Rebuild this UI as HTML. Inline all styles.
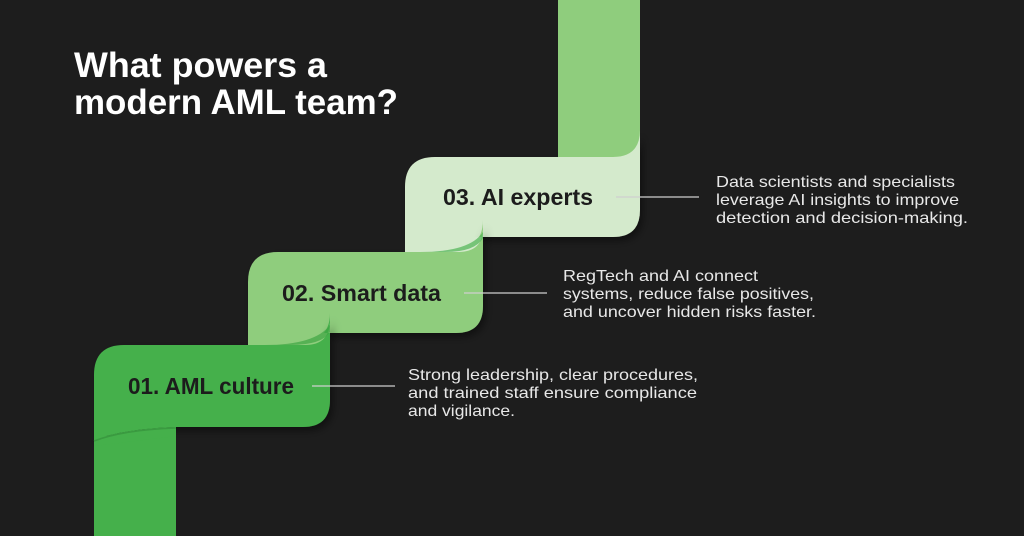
<!DOCTYPE html>
<html><head><meta charset="utf-8"><style>
html,body{margin:0;padding:0;background:#1d1d1d;}
body{width:1024px;height:536px;overflow:hidden;position:relative;font-family:"Liberation Sans",sans-serif;}
</style></head><body>
<svg width="1024" height="536" style="position:absolute;left:0;top:0" font-family="Liberation Sans, sans-serif">
<defs><filter id="s" x="-10%" y="-10%" width="130%" height="140%"><feDropShadow dx="3" dy="4" stdDeviation="4" flood-color="#000" flood-opacity="0.45"/></filter></defs>
<!-- box3 -->
<path filter="url(#s)" d="M405,187 Q405,157 435,157 L600,157 Q640,157 640,125 L640,210 Q640,237 613,237 L405,237 Z" fill="#d4eacc"/>
<rect x="405" y="230" width="78" height="24" fill="#d4eacc"/>
<!-- top column on top -->
<path d="M558,0 L640,0 L640,130 Q640,157 613,157 L558,157 Z" fill="#8fcd7d"/>
<!-- box2 -->
<path filter="url(#s)" d="M248,282 Q248,252 278,252 L443,252 Q483,252 483,220 L483,306 Q483,333 456,333 L248,333 Z" fill="#8fcd7d"/>
<path d="M405,237 L483,237 L483,228 Q483,252 458,252 L405,252 Z" fill="#d4eacc"/>
<path d="M420,252 Q470,252 483,232 L483,238 Q475,252 445,252 Z" fill="#4fb354" opacity=".7"/>
<!-- box1 -->
<path filter="url(#s)" d="M94,375 Q94,345 124,345 L290,345 Q330,345 330,313 L330,400 Q330,427 303,427 L176,427 C145,428 115,432 94,440 Z" fill="#45b04b"/>
<path d="M248,333 L330,333 L330,320 Q330,345 305,345 L248,345 Z" fill="#8fcd7d"/>
<path d="M265,345 Q315,345 330,325 L330,332 Q322,345 290,345 Z" fill="#3da543" opacity=".7"/>
<rect x="94" y="436" width="82" height="100" fill="#45b04b"/>
<path d="M94,440 C115,432 145,428 176,427 L176,436 L94,446 Z" fill="#45b04b"/>
<path d="M94,441 C115,433 145,429 176,428" stroke="#3a9a40" stroke-width="1.5" fill="none"/>
<!-- connectors -->
<line x1="312" y1="386" x2="395" y2="386" stroke="#cfcfcf" stroke-width="1.2"/>
<line x1="464" y1="293" x2="547" y2="293" stroke="#cfcfcf" stroke-width="1.2"/>
<line x1="616" y1="197" x2="699" y2="197" stroke="#cfcfcf" stroke-width="1.2"/>
<!-- title -->
<g font-weight="bold" font-size="35" fill="#fff">
<text x="74" y="77" textLength="253" lengthAdjust="spacingAndGlyphs">What powers a</text>
<text x="74" y="114" textLength="324" lengthAdjust="spacingAndGlyphs">modern AML team?</text>
</g>
<!-- labels -->
<g font-weight="bold" font-size="23" fill="#1c1c1c">
<text x="128" y="394" textLength="166" lengthAdjust="spacingAndGlyphs">01. AML culture</text>
<text x="282" y="301" textLength="159" lengthAdjust="spacingAndGlyphs">02. Smart data</text>
<text x="443" y="205" textLength="150" lengthAdjust="spacingAndGlyphs">03. AI experts</text>
</g>
<g font-size="16" fill="#e8e8e8">
<text x="408" y="380" textLength="290" lengthAdjust="spacingAndGlyphs">Strong leadership, clear procedures,</text>
<text x="408" y="398" textLength="289" lengthAdjust="spacingAndGlyphs">and trained staff ensure compliance</text>
<text x="408" y="416" textLength="107" lengthAdjust="spacingAndGlyphs">and vigilance.</text>
<text x="563" y="281" textLength="195" lengthAdjust="spacingAndGlyphs">RegTech and AI connect</text>
<text x="563" y="299" textLength="251" lengthAdjust="spacingAndGlyphs">systems, reduce false positives,</text>
<text x="563" y="317" textLength="253" lengthAdjust="spacingAndGlyphs">and uncover hidden risks faster.</text>
<text x="716" y="187" textLength="239" lengthAdjust="spacingAndGlyphs">Data scientists and specialists</text>
<text x="716" y="205" textLength="243" lengthAdjust="spacingAndGlyphs">leverage AI insights to improve</text>
<text x="716" y="223" textLength="252" lengthAdjust="spacingAndGlyphs">detection and decision-making.</text>
</g>
</svg>
</body></html>
